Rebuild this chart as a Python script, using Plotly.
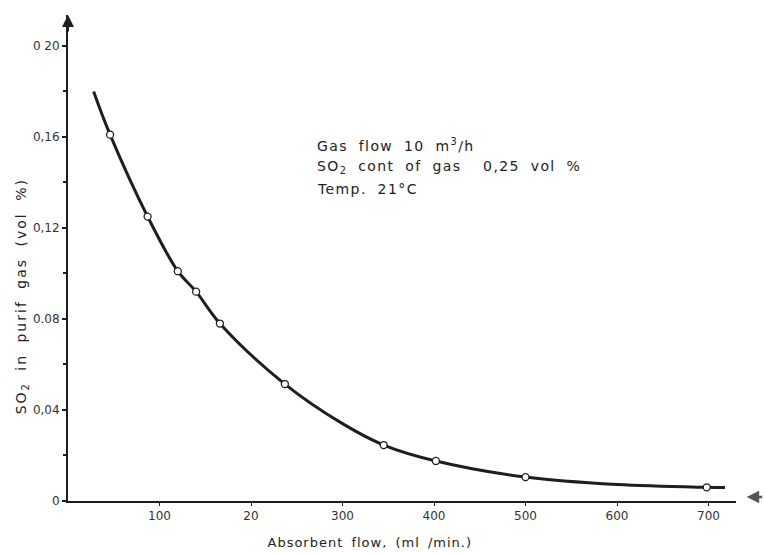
import plotly.graph_objects as go

# measured points
flow = [46, 87, 120, 140, 166, 237, 345, 402, 500, 698]
so2 = [0.161, 0.125, 0.101, 0.092, 0.078, 0.0514, 0.0246, 0.0176, 0.0105, 0.0060]

# fitted curve as drawn
curve_x = [28, 46, 87, 120, 140, 166, 237, 300, 345, 402, 500, 600, 698, 718]
curve_y = [0.180, 0.161, 0.125, 0.101, 0.092, 0.078, 0.0514, 0.034, 0.0246, 0.0176, 0.0105, 0.0072, 0.0060, 0.0059]

x_ticks = [100, 200, 300, 400, 500, 600, 700]
x_labels = ["100", "20", "300", "400", "500", "600", "700"]
y_ticks = [0, 0.04, 0.08, 0.12, 0.16, 0.20]
y_labels = ["0", "0,04", "0.08", "0,12", "0,16", "0 20"]

x_title = "Absorbent flow, (ml /min.)"
y_title = "SO<sub>2</sub> in purif gas (vol %)"
notes = ["Gas flow 10 m<sup>3</sup>/h",
         "SO<sub>2</sub> cont of gas  0,25 vol %",
         "Temp. 21°C"]
note_y = [0.733, 0.688, 0.641]

FONT = "DejaVu Sans"
INK = "#1e1e1e"

fig = go.Figure()
fig.add_trace(go.Scatter(x=curve_x, y=curve_y, mode="lines",
                         line=dict(color=INK, width=3, shape="spline", smoothing=1.0),
                         hoverinfo="skip", showlegend=False))
fig.add_trace(go.Scatter(x=flow, y=so2, mode="markers",
                         marker=dict(symbol="circle", size=7, color="white",
                                     line=dict(color=INK, width=1.3)),
                         showlegend=False))

fig.update_layout(
    width=764, height=554,
    margin=dict(l=68, r=28, t=15, b=53),
    paper_bgcolor="white", plot_bgcolor="white",
    font=dict(family=FONT, size=12, color="#333"),
    xaxis=dict(range=[0, 730], showgrid=False, zeroline=False,
               showline=True, linecolor=INK, linewidth=2,
               tickvals=x_ticks, ticktext=x_labels,
               ticks="outside", ticklen=3, tickcolor=INK, tickwidth=1,
               tickfont=dict(size=12, color="#333")),
    yaxis=dict(range=[0, 0.2136], showgrid=False, zeroline=False,
               showline=True, linecolor=INK, linewidth=2,
               tickvals=y_ticks, ticktext=y_labels,
               ticks="outside", ticklen=4, tickcolor=INK, tickwidth=1.5,
               minor=dict(dtick=0.02, ticks="outside", ticklen=3, tickcolor=INK),
               tickfont=dict(size=12, color="#333")),
)

# 0: y-axis arrow
fig.add_annotation(x=0, y=1.0, xref="x", yref="paper", ax=0, ay=18,
                   showarrow=True, arrowhead=2, arrowsize=1.2, arrowwidth=2,
                   arrowcolor=INK, text="")
# 1: stray arrow on the right of x-axis
fig.add_annotation(x=1.016, y=0.0018, xref="paper", yref="y", ax=17, ay=0,
                   showarrow=True, arrowhead=2, arrowsize=1, arrowwidth=2.5,
                   arrowcolor="#555", text="")
# 2-4: notes
for txt, yy in zip(notes, note_y):
    fig.add_annotation(x=0.37, y=yy, xref="paper", yref="paper",
                       xanchor="left", yanchor="middle", align="left", showarrow=False,
                       text=txt, font=dict(family=FONT, size=14, color="#222"))
# 5: x title
fig.add_annotation(x=0.452, y=-0.086, xref="paper", yref="paper",
                   xanchor="center", yanchor="middle", showarrow=False,
                   text=x_title, font=dict(family=FONT, size=13, color="#222"))
# 6: y title
fig.add_annotation(x=-0.069, y=0.422, xref="paper", yref="paper",
                   xanchor="center", yanchor="middle", showarrow=False, textangle=-90,
                   text=y_title, font=dict(family=FONT, size=14, color="#222"))

post = """
var gd = document.getElementById('{plot_id}');
function sp(idx, ls, ws){
  var g = gd.querySelectorAll('g.annotation[data-index="'+idx+'"] text');
  g.forEach(function(t){ t.style.letterSpacing = ls; t.style.wordSpacing = ws; });
}
sp(2, '1.4px', '5px');
sp(3, '1.4px', '5px');
sp(4, '1.4px', '5px');
sp(5, '1px', '3px');
sp(6, '2px', '5px');
"""
fig.write_html("out.html", post_script=post)
